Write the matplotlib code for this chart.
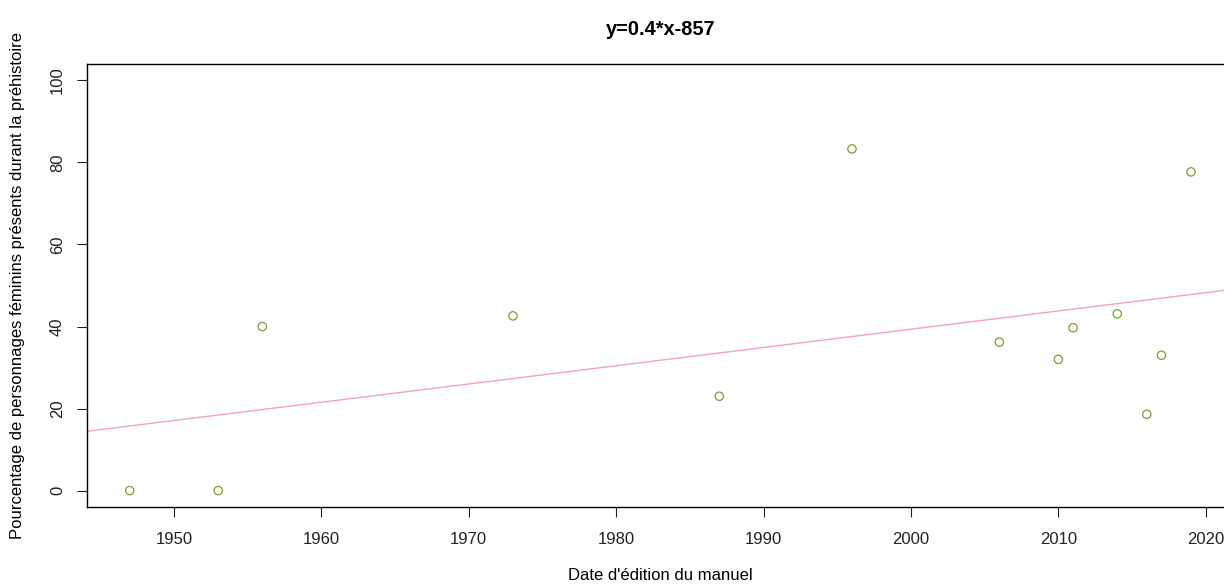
import numpy as np
import matplotlib
matplotlib.use("Agg")
import matplotlib.pyplot as plt

plt.rcParams["font.family"] = ["Liberation Sans", "DejaVu Sans"]

# ── Data ──────────────────────────────────────────────────────
annees = [1947, 1953, 1956, 1973, 1987, 1996, 2006, 2010, 2011, 2014, 2016, 2017, 2019]
pourcentages = [0, 0, 40, 42.6, 23.0, 83.3, 36.2, 32.0, 39.7, 43.1, 18.6, 33.0, 77.7]
x_ticks = [1950, 1960, 1970, 1980, 1990, 2000, 2010, 2020]
y_ticks = [0, 20, 40, 60, 80, 100]

POINT_COL = "#7f9a3a"
LINE_COL = "#f2a3b5"

x = np.array(annees, dtype=float)
y = np.array(pourcentages, dtype=float)
pente, origine = np.polyfit(x, y, 1)

fig = plt.figure(figsize=(12.24, 5.85), dpi=100)
ax = fig.add_axes([0.0713, 0.1333, 0.9364, 0.7573])

# R-like 4% padding
xr = x.max() - x.min()
xlim = (x.min() - 0.04 * xr, x.max() + 0.04 * xr)
ax.set_xlim(*xlim)
ax.set_ylim(-4, 104)

ax.scatter(x, y, s=36, facecolors="none", edgecolors=POINT_COL, linewidths=0.9, zorder=3)
xx = np.array(xlim)
ax.plot(xx, pente * xx + origine, color=LINE_COL, linewidth=1.0, zorder=2)

ax.set_xticks(x_ticks)
ax.set_yticks(y_ticks)
ax.set_yticklabels([str(v) for v in y_ticks], rotation=90, va="center")
ax.tick_params(direction="out", length=7, width=0.8, labelsize=12,
               colors="#222222")
ax.tick_params(axis="x", pad=11)
ax.tick_params(axis="y", pad=9)
for sp in ax.spines.values():
    sp.set_linewidth(1.0)
    sp.set_color("black")

ax.set_title("y=0.4*x-857", fontsize=14.4, fontweight="bold", pad=21)
ax.set_xlabel("Date d'édition du manuel", fontsize=12, labelpad=15)
ax.set_ylabel("Pourcentage de personnages féminins présents durant la préhistoire",
              fontsize=12, labelpad=18)

fig.savefig("out.png", dpi=100, facecolor="white")
